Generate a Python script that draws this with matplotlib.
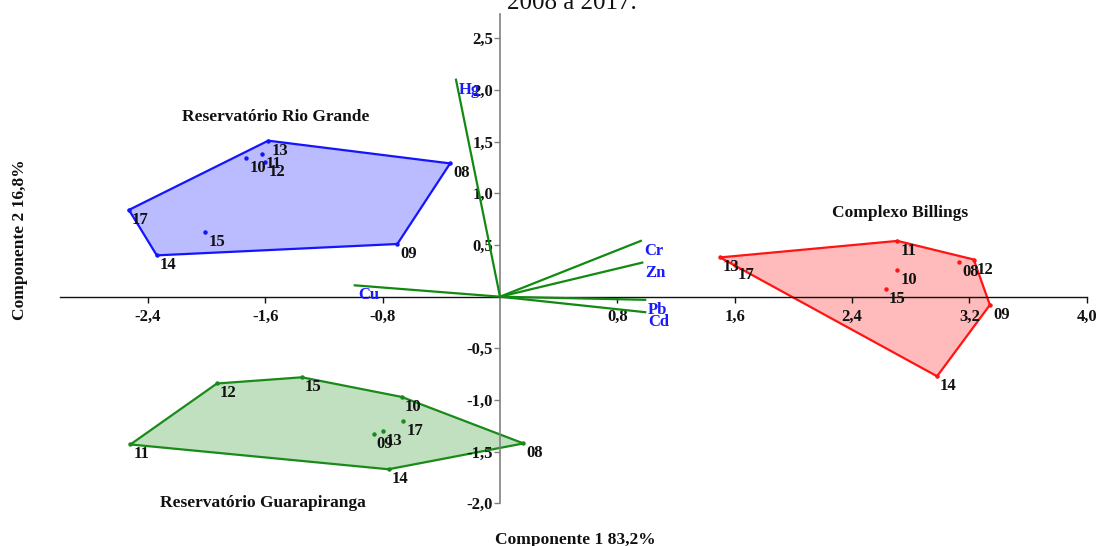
import numpy as np
import matplotlib
matplotlib.use("Agg")
import matplotlib.pyplot as plt

plt.rcParams['font.family'] = ['Liberation Serif', 'DejaVu Serif']
plt.rcParams['font.weight'] = 'bold'

# PCA scores per year (2016 missing) for each reservoir
years = ['08', '09', '10', '11', '12', '13', '14', '15', '17']

rio_grande_x = [-0.34, -0.70, -1.73, -1.62, -1.60, -1.58, -2.34, -2.01, -2.53]
rio_grande_y = [1.29, 0.51, 1.34, 1.38, 1.30, 1.51, 0.40, 0.63, 0.84]

billings_x = [3.13, 3.34, 2.71, 2.71, 3.23, 1.50, 2.98, 2.63, 1.60]
billings_y = [0.34, -0.08, 0.26, 0.54, 0.36, 0.38, -0.77, 0.07, 0.31]

guarapiranga_x = [0.16, -0.86, -0.67, -2.52, -1.93, -0.80, -0.76, -1.35, -0.66]
guarapiranga_y = [-1.42, -1.33, -0.97, -1.43, -0.84, -1.30, -1.67, -0.78, -1.20]

# variable loadings
metals = ['Hg', 'Cr', 'Zn', 'Pb', 'Cd', 'Cu']
load_x = [-0.30, 0.96, 0.97, 0.99, 0.99, -0.99]
load_y = [2.10, 0.54, 0.33, -0.03, -0.15, 0.11]

x_ticks = [-2.4, -1.6, -0.8, 0.8, 1.6, 2.4, 3.2, 4.0]
y_ticks = [-2.0, -1.5, -1.0, -0.5, 0.5, 1.0, 1.5, 2.0, 2.5]


def convex_hull(xs, ys):
    pts = sorted(zip(xs, ys))

    def cross(o, a, b):
        return (a[0] - o[0]) * (b[1] - o[1]) - (a[1] - o[1]) * (b[0] - o[0])

    lower, upper = [], []
    for p in pts:
        while len(lower) >= 2 and cross(lower[-2], lower[-1], p) <= 0:
            lower.pop()
        lower.append(p)
    for p in reversed(pts):
        while len(upper) >= 2 and cross(upper[-2], upper[-1], p) <= 0:
            upper.pop()
        upper.append(p)
    return np.array(lower[:-1] + upper[:-1])


fig = plt.figure(figsize=(10.99, 5.46), dpi=100)
ax = fig.add_axes([0, 0, 1, 1])
ax.set_xlim(-500 / 146.67, 599 / 146.67)
ax.set_ylim((296.7 - 546) / 103.33, 296.7 / 103.33)

groups = [
    (rio_grande_x, rio_grande_y, '#1414ff', '#bbbbff'),
    (billings_x, billings_y, '#ff1414', '#ffbbbb'),
    (guarapiranga_x, guarapiranga_y, '#1a8a1a', '#c0e0c0'),
]
for gx, gy, edge, face in groups:
    h = convex_hull(gx, gy)
    ax.fill(h[:, 0], h[:, 1], facecolor=face, edgecolor=edge, lw=1.6, zorder=1)
    ax.plot(gx, gy, 'o', color=edge, ms=2.2, zorder=2)
    for xv, yv, lab in zip(gx, gy, years):
        ax.annotate(lab, (xv, yv), xytext=(3, -10), textcoords='offset pixels',
                    ha='left', va='center', fontsize=12, color='#111111', zorder=4)

for lx, ly, name in zip(load_x, load_y, metals):
    ax.plot([0, lx], [0, ly], color='#128a12', lw=1.6, zorder=3)
    ax.annotate(name, (lx, ly), xytext=(3, -10), textcoords='offset pixels',
                ha='left', va='center', fontsize=12, color='#1a1aff', zorder=5)

ax.text(-1.53, 1.74, 'Reservatório Rio Grande', ha='center', va='center', fontsize=12.5, color='#111111')
ax.text(2.73, 0.81, 'Complexo Billings', ha='center', va='center', fontsize=12.5, color='#111111')
ax.text(-1.62, -2.0, 'Reservatório Guarapiranga', ha='center', va='center', fontsize=12.5, color='#111111')

# axes crossing at the origin
for s in ['top', 'right']:
    ax.spines[s].set_visible(False)
ax.spines['left'].set_position(('data', 0))
ax.spines['bottom'].set_position(('data', 0))
ax.spines['left'].set_bounds(-2.0, 2.74)
ax.spines['bottom'].set_bounds(-3.0, 4.0)
ax.spines['left'].set_color('#808080')
ax.spines['left'].set_linewidth(1.2)
ax.spines['bottom'].set_color('#111111')
ax.spines['bottom'].set_linewidth(1.0)

ax.set_xticks(x_ticks)
ax.set_xticklabels([f'{v:.1f}'.replace('.', ',') for v in x_ticks])
ax.set_yticks(y_ticks)
ax.set_yticklabels([f'{v:.1f}'.replace('.', ',') for v in y_ticks])
ax.tick_params(axis='x', direction='out', length=4, width=1, color='#111111',
               labelsize=12, pad=4.5, labelcolor='#111111')
ax.tick_params(axis='y', direction='out', length=4, width=1, color='#808080',
               labelsize=12, pad=1, labelcolor='#111111')

fig.text(572 / 1099, 1 - 9 / 546, '2008 a 2017.', ha='center', va='baseline',
         fontsize=18, fontweight='normal', color='#111111')
fig.text(575 / 1099, 1 - 540 / 546, 'Componente 1 83,2%', ha='center', va='center',
         fontsize=12.5, color='#111111')
fig.text(20 / 1099, 1 - 240 / 546, 'Componente 2 16,8%', ha='center', va='center',
         rotation=90, fontsize=12.5, color='#111111')

fig.savefig('out.png', dpi=100)
